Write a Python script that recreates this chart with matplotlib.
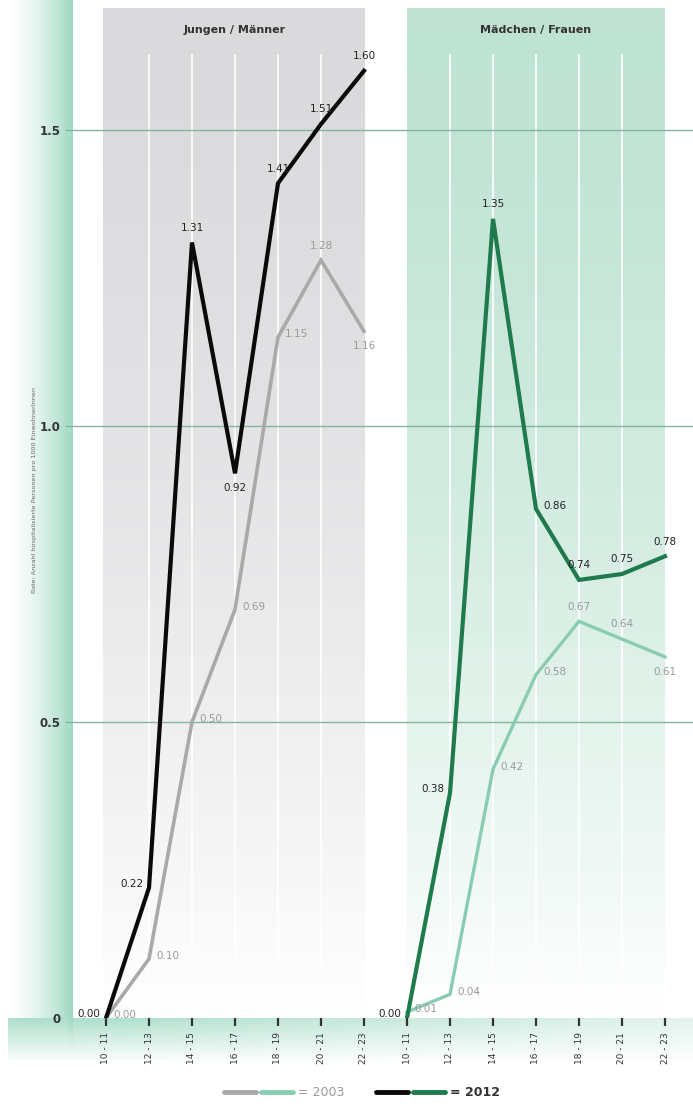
import matplotlib
matplotlib.use("Agg")
import matplotlib.pyplot as plt
import numpy as np
from matplotlib.lines import Line2D
from matplotlib.legend_handler import HandlerTuple

plt.rcParams['font.family'] = ['Liberation Sans Narrow', 'DejaVu Sans']

# data: rate per 1000 inhabitants
ages = ["10 - 11", "12 - 13", "14 - 15", "16 - 17", "18 - 19", "20 - 21", "22 - 23"]
boys_2003 = [0.00, 0.10, 0.50, 0.69, 1.15, 1.28, 1.16]
boys_2012 = [0.00, 0.22, 1.31, 0.92, 1.41, 1.51, 1.60]
girls_2003 = [0.01, 0.04, 0.42, 0.58, 0.67, 0.64, 0.61]
girls_2012 = [0.00, 0.38, 1.35, 0.86, 0.74, 0.75, 0.78]
groups = ["Jungen / Männer", "Mädchen / Frauen"]
yticks = [0, 0.5, 1.0, 1.5]
ylabel = "Rate: Anzahl hospitalisierte Personen pro 1000 EinwohnerInnen"

# label placement per point: l=left, r=right, a=above, b=below
pos_b12 = ['l', 'l', 'a', 'b', 'a', 'a', 'a']
pos_b03 = ['r', 'r', 'r', 'r', 'r', 'a', 'b']
pos_g12 = ['l', 'l', 'a', 'r', 'a', 'a', 'a']
pos_g03 = ['r', 'r', 'r', 'r', 'a', 'a', 'b']

GREY = '#a9a9a9'
LGREEN = '#88cdb1'
DGREEN = '#1f7a4c'
BLACK = '#0a0a0a'
GRID = '#84b5a1'

W, H = 693, 1104
fig = plt.figure(figsize=(W / 100, H / 100), dpi=100)

# decorative background bands (pixel coordinates)
bg = fig.add_axes([0, 0, 1, 1])
bg.set_axis_off()
yy, xx = np.mgrid[0:H, 0:W].astype(float)
mint = np.array([0.62, 0.85, 0.76])
t = np.clip((xx - 8) / 64, 0, 1) ** 1.5
t[xx > 72] = 0
vfade = np.clip(1 - (yy - 1018) / 44, 0, 1)
left_band = t * vfade
bottom = np.clip(1 - (yy - 1018) / 44, 0, 1) * ((yy >= 1018) & (xx >= 8))
bottom = bottom * np.clip(1 - 0.65 * (xx - 72) / 621, 0.3, 1) * 0.85
inten = np.maximum(left_band, bottom)[..., None]
img = np.ones((H, W, 3)) * (1 - inten) + mint * inten
bg.imshow(img, extent=(0, W, H, 0), aspect='auto', interpolation='bilinear')
bg.set_xlim(0, W)
bg.set_ylim(H, 0)

# main axes, mapped so that x index i sits at 106 + 43*i px and 0 at y=1018 px
ax = fig.add_axes([72 / W, (H - 1018) / H, (W - 72) / W, 1018 / H])
ax.patch.set_alpha(0)
for s in ax.spines.values():
    s.set_visible(False)

n = len(ages)
x_b = np.arange(n)
x_g = np.arange(n) + n
top = (1018 - 8) / 592

# panels with vertical fade
grad = np.linspace(0, 1, 256)[:, None]
fade = np.clip(grad ** 1.6, 0, 1)
grey_top = np.array([0.855, 0.855, 0.865])
green_top = np.array([0.75, 0.89, 0.83])
for x0, x1, ctop in [(x_b[0] - 0.07, x_b[-1], grey_top), (x_g[0], x_g[-1], green_top)]:
    c = ctop[None, None, :] * (1 - fade[..., None]) + 1.0 * fade[..., None]
    c = np.repeat(c, 2, axis=1)
    ax.imshow(c, extent=(x0, x1, 0, top), aspect='auto', origin='upper',
              zorder=0, interpolation='bilinear')
ax.set_xlim((72 - 106) / 43, (W - 106) / 43)
ax.set_ylim(0, 1018 / 592)

vtop = (1018 - 55) / 592
for xs in (x_b, x_g):
    for xv in xs[1:-1]:
        ax.plot([xv, xv], [0, vtop], color='white', lw=1.2, zorder=1)

for yv in yticks[1:]:
    ax.axhline(yv, xmin=-0.01, color=GRID, lw=1.0, zorder=2, clip_on=False)

ty = (1018 - 30) / 592
ax.text(x_b.mean(), ty, groups[0], ha='center', va='center', fontsize=8,
        fontweight='bold', color='#333333')
ax.text(x_g.mean(), ty, groups[1], ha='center', va='center', fontsize=8,
        fontweight='bold', color='#333333')

ax.plot(x_b, boys_2003, color=GREY, lw=2.6, zorder=3, solid_joinstyle='miter')
ax.plot(x_g, girls_2003, color=LGREEN, lw=2.4, zorder=3, solid_joinstyle='miter')
ax.plot(x_b, boys_2012, color=BLACK, lw=3.0, zorder=4, solid_joinstyle='miter')
ax.plot(x_g, girls_2012, color=DGREEN, lw=3.0, zorder=4, solid_joinstyle='miter')

offs = {'l': ((-4, 3), 'right', 'center'), 'r': ((5, 2), 'left', 'center'),
        'a': ((0, 7), 'center', 'bottom'), 'b': ((0, -7), 'center', 'top')}


def label_series(xs, vals, poss, color):
    for xv, v, p in zip(xs, vals, poss):
        off, ha, va = offs[p]
        ax.annotate(f"{v:.2f}", (xv, v), xytext=off, textcoords='offset points',
                    ha=ha, va=va, fontsize=7.5, color=color, zorder=5)


label_series(x_b, boys_2012, pos_b12, '#222222')
label_series(x_b, boys_2003, pos_b03, '#9a9a9a')
label_series(x_g, girls_2012, pos_g12, '#222222')
label_series(x_g, girls_2003, pos_g03, '#9a9a9a')

ax.set_yticks(yticks)
ax.set_yticklabels(["0", "0.5", "1.0", "1.5"], fontsize=8.5, fontweight='bold',
                   color='#333333')
ax.tick_params(axis='y', length=0, pad=8)
ax.set_xticks(np.concatenate([x_b, x_g]))
ax.set_xticklabels(ages + ages, rotation=90, fontsize=6.5, color='#333333')
ax.tick_params(axis='x', length=6, width=1.6, color='#333333', pad=4)

fig.text(35 / W, 1 - 490 / H, ylabel, rotation=90, ha='center', va='center',
         fontsize=4.6, color='#666666')

# legend
h03 = (Line2D([], [], color=GREY, lw=3.5, solid_capstyle='round'),
       Line2D([], [], color=LGREEN, lw=3.5, solid_capstyle='round'))
h12 = (Line2D([], [], color=BLACK, lw=3.5, solid_capstyle='round'),
       Line2D([], [], color=DGREEN, lw=3.5, solid_capstyle='round'))
leg = fig.legend([h03, h12], ["= 2003", "= 2012"],
                 handler_map={tuple: HandlerTuple(ndivide=None, pad=0.4)},
                 loc='center', bbox_to_anchor=(362 / W, 1 - 1093 / H), ncol=2,
                 frameon=False, handlelength=5.5, handletextpad=0.4,
                 columnspacing=2.5, fontsize=9)
leg.get_texts()[0].set_color('#9a9a9a')
leg.get_texts()[1].set_color('#333333')
leg.get_texts()[1].set_fontweight('bold')

fig.savefig("out.png", dpi=100)
